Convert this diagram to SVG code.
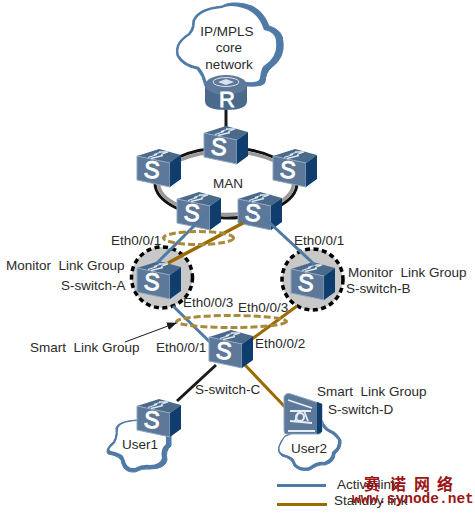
<svg xmlns="http://www.w3.org/2000/svg" width="475" height="513" viewBox="0 0 475 513">
<style>
text{font-family:"Liberation Sans",Arial,sans-serif;font-size:13.5px;fill:#2a2a2a;white-space:pre}
.m{text-anchor:middle}
.blue{stroke:#4f7aa6;stroke-width:3;fill:none}
.brown{stroke:#9a6a00;stroke-width:3;fill:none}
.blk{stroke:#1a1a1a;stroke-width:3;fill:none}
.dash{fill:none;stroke:#a88a3c;stroke-width:3;stroke-dasharray:7 3}
.ring{fill:#c8c8c8;stroke:#000;stroke-width:3.500;stroke-dasharray:5 3.500}
.cb{fill:#4f7aa6;stroke:#4f7aa6;stroke-width:1}
.cw{fill:#fff;stroke:none}
.wm{font-family:"Noto Sans CJK SC","Liberation Serif",serif;font-weight:bold;fill:#9c1414;font-size:16px}
.wm2{font-family:"Liberation Mono",monospace;font-weight:bold;fill:#9c1414;font-size:14.500px}
</style>
<defs>
<marker id="arr" markerWidth="10" markerHeight="8" refX="9" refY="4" orient="auto" markerUnits="userSpaceOnUse"><path d="M0,0L10,4L0,8z" fill="#1a1a1a"/></marker>
<symbol id="sw" width="46" height="40" viewBox="0 0 46 40" overflow="visible">
<path d="M0,7L22,0L44,6L33,14z" fill="#4a6a8c"/>
<path d="M0,7L33,14V38L0,31z" fill="#5d7898" stroke="#8fa9c4" stroke-width="1"/>
<path d="M33,14L44,6V30L33,38z" fill="#0f3d6e"/>
<path d="M11,8.500L20,5.500H17L24,3M14,9.500L26,6.500M22,3H31L24,5.500" stroke="#dfe7ef" stroke-width="1.300" fill="none"/>
<text x="15" y="29" class="m" style="font-size:24px;fill:#fff;stroke:#fff;stroke-width:.9" transform="rotate(5 15 21)">S</text>
</symbol>
</defs>
<g id="connectors">
<path class="blk" d="M226,108V128"/>
<ellipse cx="226" cy="183" rx="71" ry="35" fill="none" stroke="#111" stroke-width="3"/>
<ellipse cx="226" cy="183" rx="67.500" ry="31.500" fill="none" stroke="#999" stroke-width="3.500"/>
</g>
<g id="monitor-circles">
<circle class="ring" cx="162" cy="277.500" r="30.500"/>
<circle class="ring" cx="312.500" cy="279.500" r="30.500"/>
</g>
<g id="node-cloud-core">
<path class="cb" d="M247,86Q264,87 265,82Q266,72 271,68Q285,58 283,42Q283,30 269,26Q262,7 245,4Q230,1 222,6Q198,8 193,20Q193,32 185,36Q174,44 177,56Q182,66 197,69Q203,76 205,86z"/>
<path class="cw" d="M247,82Q259,83 260,78Q261,67 265,65Q278,56 276,42Q276,32 264,30Q258,12 243,8Q230,4 222,8Q200,10 195,21Q195,33 187,37Q176,45 179,55Q184,64 199,67Q205,74 207,84z"/>
<text x="227" y="36" class="m">IP/MPLS</text>
<text x="229" y="52" class="m">core</text>
<text x="229" y="69" class="m">network</text>
</g>
<g id="node-router">
<path d="M205,85V101Q205,110 226,110Q247,110 247,101V85z" fill="#4a6a8c"/>
<ellipse cx="226" cy="85" rx="21" ry="10" fill="#5d7898"/>
<ellipse cx="226" cy="82" rx="13" ry="4.500" fill="none" stroke="#d8e2ec" stroke-width="1"/>
<path d="M218,82L226,79L234,82L226,85z" fill="#d8e2ec"/>
<text x="227" y="107" class="m" style="font-size:22px;fill:#fff;stroke:#fff;stroke-width:.8">R</text>
</g>
<g id="node-man-top"><use href="#sw" x="204" y="126"/></g>
<g id="node-man-left"><use href="#sw" x="137" y="149"/></g>
<g id="node-man-right"><use href="#sw" x="273" y="149"/></g>
<g id="node-man-lower-left"><use href="#sw" x="177" y="192"/></g>
<g id="node-man-lower-right"><use href="#sw" x="238" y="192"/></g>
<g id="node-switch-a"><use href="#sw" x="137" y="261"/>
<text x="6" y="270">Monitor  Link Group</text><text x="61" y="290">S-switch-A</text></g>
<g id="node-switch-b"><use href="#sw" x="291" y="262"/>
<text x="348" y="277">Monitor  Link Group</text><text x="346" y="293">S-switch-B</text></g>
<g id="links">
<path class="blue" d="M208,212L157,263"/>
<path class="brown" d="M243,223L168,263" style="stroke-width:3.500"/>
<path class="blue" d="M258,212L315,265"/>
<path class="blue" d="M173,306L216,348"/>
<path class="brown" d="M297,306L252,339"/>
<path class="blk" d="M216,365L177,401"/>
<path class="brown" d="M245,365L285,407"/>
<ellipse class="dash" cx="198.500" cy="238" rx="35" ry="6.500"/>
<ellipse class="dash" cx="231.500" cy="321.500" rx="55" ry="6"/>
<path d="M125,342L176,323" stroke="#1a1a1a" stroke-width="1" fill="none" marker-end="url(#arr)"/>
</g>
<g id="node-switch-c"><use href="#sw" x="209" y="330"/>
<text x="195" y="394">S-switch-C</text></g>
<g id="node-cloud-user1">
<path class="cb" d="M137,420Q118,421 116,428Q117,440 111,444Q105,450 108,454Q122,456 122,464Q125,473 135,472Q142,468 150,469Q165,469 167,460Q165,450 171,446V432z"/>
<path class="cw" d="M137,421Q119,422 118,429Q118,441 113,445Q107,450 111,451Q124,453 125,461Q127,469 135,468Q142,464 150,465Q160,465 162,458Q160,449 166,444V430z"/>
<text x="122" y="449">User1</text>
</g>
<g id="node-user1-switch"><use href="#sw" x="137" y="399"/></g>
<g id="node-cloud-user2">
<path class="cb" d="M285,436Q281,440 279,446Q277,452 282,456Q292,458 294,466Q300,472 310,470Q318,464 325,465Q335,462 335,454Q342,448 341,440Q336,432 332,431Q325,428 322,420z"/>
<path class="cw" d="M285,437Q282,441 280,446Q278,451 283,454Q294,456 296,464Q301,469 309,467Q317,461 324,462Q332,459 332,452Q339,447 338,440Q333,434 330,433Q323,430 320,422z"/>
<text x="291" y="453">User2</text>
</g>
<g id="node-switch-d">
<path d="M284,397Q286,392 291,394L322,404V430L320,434H286Q284,434 284,430z" fill="#5d7898" stroke="#8fa9c4" stroke-width="1"/>
<path d="M317,402L322,404V432L317,434z" fill="#0f3d6e"/>
<path d="M288,400L312,408M290,411L311,411M299,411L295,421M304,411L308,421M288,431L315,431M290,421L312,423" stroke="#e6edf4" stroke-width="1.800" fill="none"/>
<circle cx="300" cy="417" r="4" fill="none" stroke="#e6edf4" stroke-width="2"/>
<text x="317" y="396">Smart  Link Group</text><text x="328" y="414">S-switch-D</text>
</g>
<g id="port-labels">
<text x="111" y="245">Eth0/0/1</text>
<text x="294" y="245">Eth0/0/1</text>
<text x="183" y="307">Eth0/0/3</text>
<text x="238" y="312">Eth0/0/3</text>
<text x="156" y="352">Eth0/0/1</text>
<text x="255" y="348">Eth0/0/2</text>
<text x="30" y="352">Smart  Link Group</text>
<text x="228" y="188" class="m">MAN</text>
</g>
<g id="legend">
<path class="blue" d="M277,485.500H326"/>
<path class="brown" d="M277,504.500H327"/>
<text x="337" y="489">Active link</text>
<text x="334" y="505">Standby link</text>
</g>
<g id="watermark">
<text class="wm" x="364" y="490">赛</text><text class="wm" x="390" y="490">诺</text><text class="wm" x="414" y="490">网</text><text class="wm" x="437" y="490">络</text>
<text class="wm2" x="352" y="503">www.synode.net</text>
</g>
</svg>
